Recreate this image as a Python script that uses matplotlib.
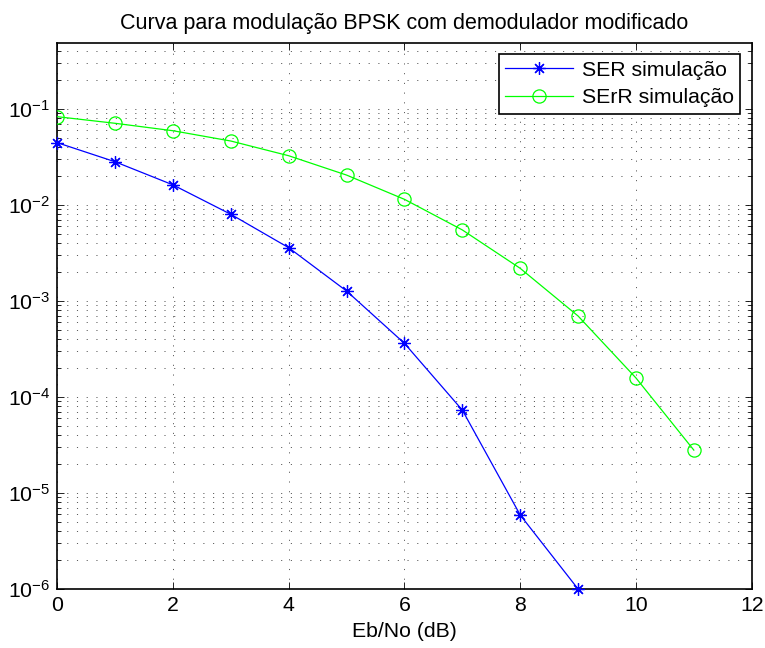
import numpy as np
import matplotlib
matplotlib.use('Agg')
import matplotlib.pyplot as plt
from matplotlib.ticker import LogLocator, NullFormatter

plt.rcParams['font.family'] = ['Liberation Sans', 'DejaVu Sans']
plt.rcParams['mathtext.fontset'] = 'custom'
plt.rcParams['mathtext.rm'] = 'Liberation Sans'
plt.rcParams['lines.scale_dashes'] = False

# dados
ebno_ser = [0, 1, 2, 3, 4, 5, 6, 7, 8, 9]
ser = [0.0446, 0.0282, 0.0162, 0.0080, 0.00359, 0.00127, 3.62e-4, 7.3e-5, 5.9e-6, 1.0e-6]
ebno_serr = [0, 1, 2, 3, 4, 5, 6, 7, 8, 9, 10, 11]
serr = [0.0832, 0.0710, 0.0594, 0.0464, 0.0326, 0.0205, 0.01146, 0.0055,
        0.00219, 6.98e-4, 1.58e-4, 2.8e-5]

fs = 15.3

fig = plt.figure(figsize=(7.65, 6.48), dpi=100)
ax = fig.add_axes([0.0749, 0.091, 0.9077, 0.843])

ax.semilogy(ebno_ser, ser, color='b', lw=0.9, marker=(8, 2, 0), ms=9,
            mew=0.9, label='SER simulação', clip_on=False, zorder=3)
ax.semilogy(ebno_serr, serr, color=(0, 1, 0), lw=0.9, marker='o', ms=9.5,
            mfc='none', mew=0.9, label='SErR simulação', zorder=3)

ax.set_xlim(0, 12)
ax.set_ylim(1e-6, 0.49)
ax.set_xticks(np.arange(0, 13, 2))
ax.yaxis.set_major_locator(LogLocator(base=10, numticks=20))
ax.yaxis.set_minor_locator(LogLocator(base=10, subs=np.arange(2, 10), numticks=20))
ax.yaxis.set_minor_formatter(NullFormatter())

grid_ls = (0, (0.8, 6.2))
ax.grid(True, which='major', axis='both', color='0.25', lw=0.6, ls=grid_ls)
ax.grid(True, which='minor', axis='y', color='0.25', lw=0.6, ls=grid_ls)

ax.tick_params(which='both', direction='in', top=True, right=True, labelsize=fs)
ax.tick_params(which='major', length=5, width=0.6, pad=5)
ax.tick_params(which='minor', length=3, width=0.6)
for s in ax.spines.values():
    s.set_linewidth(1.2)

ax.set_xlabel('Eb/No (dB)', fontsize=fs, labelpad=5)
ax.set_title('Curva para modulação BPSK com demodulador modificado', fontsize=15.5, pad=10)

leg = ax.legend(loc='upper right', fontsize=fs, fancybox=False, framealpha=1,
                edgecolor='k', handlelength=3.2, handletextpad=0.4,
                borderaxespad=0.55, borderpad=0.3, labelspacing=0.4)
leg.get_frame().set_linewidth(1.2)

fig.savefig('out.png', dpi=100)
